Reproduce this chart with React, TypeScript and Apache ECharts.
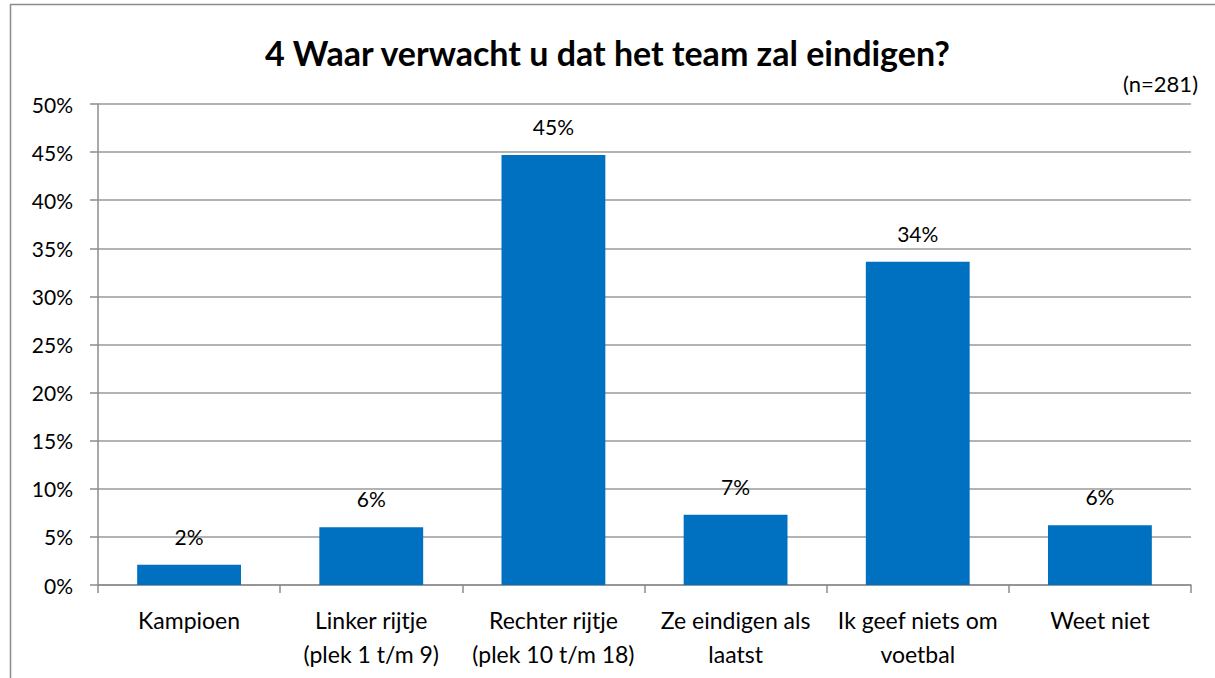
import React, { useEffect, useRef } from "react";
import * as echarts from "echarts";

const categories = [
  "Kampioen",
  "Linker rijtje\n(plek 1 t/m 9)",
  "Rechter rijtje\n(plek 10 t/m 18)",
  "Ze eindigen als\nlaatst",
  "Ik geef niets om\nvoetbal",
  "Weet niet",
];
const values = [2.1, 6.0, 44.7, 7.3, 33.6, 6.2];
const title = "4 Waar verwacht u dat het team zal eindigen?";
const note = "(n=281)";

export default function App() {
  const ref = useRef<HTMLDivElement>(null);
  useEffect(() => {
    document.body.style.margin = "0";
    const chart = echarts.init(ref.current!, null, { renderer: "svg" });
    const font = "Lato, 'Open Sans', sans-serif";
    chart.setOption({
      animation: false,
      backgroundColor: "#ffffff",
      textStyle: { fontFamily: font },
      title: {
        text: title,
        left: "center",
        top: 30,
        textStyle: { fontSize: 34, fontWeight: "bold", color: "#000", fontFamily: font },
      },
      graphic: [
        {
          type: "rect",
          shape: { x: 10.5, y: 4.5, width: 1300, height: 800 },
          style: { fill: "none", stroke: "#8c8c8c", lineWidth: 1.5 },
          silent: true,
        },
        {
          type: "text",
          right: 17,
          top: 72,
          style: { text: note, fontSize: 22, fill: "#000", fontFamily: font },
        },
      ],
      grid: { left: 98, right: 24, top: 104, bottom: 93, containLabel: false },
      xAxis: {
        type: "category",
        data: categories,
        axisLine: { lineStyle: { color: "#8c8c8c", width: 1.5 } },
        axisTick: { show: true, length: 8, lineStyle: { color: "#8c8c8c", width: 1.5 } },
        axisLabel: { fontSize: 23, color: "#000", lineHeight: 34, margin: 18, fontFamily: font, interval: 0 },
      },
      yAxis: {
        type: "value",
        min: 0,
        max: 50,
        interval: 5,
        axisLine: { show: true, lineStyle: { color: "#8c8c8c", width: 1.5 } },
        axisTick: { show: true, length: 8, lineStyle: { color: "#8c8c8c", width: 1.5 } },
        splitLine: { lineStyle: { color: "#9a9a9a", width: 1.5 } },
        axisLabel: { fontSize: 21, color: "#000", margin: 25, formatter: "{value}%", fontFamily: font },
      },
      series: [
        {
          type: "bar",
          data: values,
          barWidth: "57%",
          itemStyle: { color: "#0070C0" },
          label: {
            show: true,
            position: "top",
            distance: 18,
            fontSize: 21,
            color: "#000",
            fontFamily: font,
            formatter: (p: any) => Math.round(p.value) + "%",
          },
        },
      ],
    });
    return () => chart.dispose();
  }, []);
  return <div ref={ref} style={{ width: 1215, height: 678 }} />;
}
